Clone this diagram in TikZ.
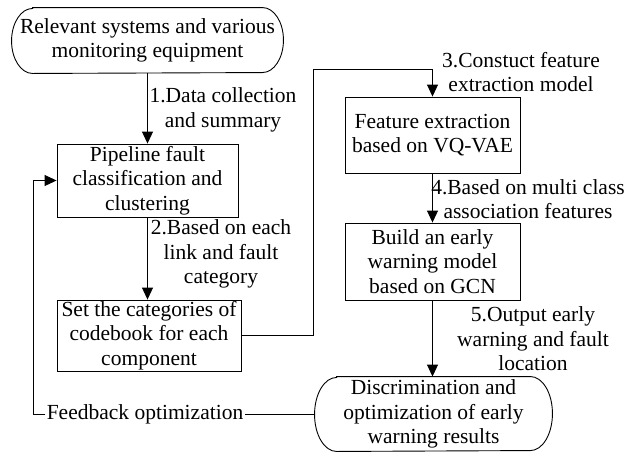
\documentclass[tikz,border=0pt]{standalone}
\usepackage{fontspec}
\setmainfont{Liberation Serif}
\usetikzlibrary{arrows.meta}
\begin{document}
\begin{tikzpicture}[x=1pt,y=-1pt,
  font=\fontsize{21.5}{24.4}\selectfont,
  line width=0.9pt,
  arr/.style={-{Triangle[length=12pt,width=11pt]}},
  stepbox/.style={draw,rectangle,inner sep=0pt,align=center},
  plain/.style={rectangle,inner sep=0pt,align=center},
  lbl/.style={inner sep=0pt,align=center}]
\useasboundingbox (0,0) rectangle (624,451);
% top stadium
\node[plain,minimum width=271pt,minimum height=65pt] (top) at (147.5,40.5)
  {Relevant systems and various\\monitoring equipment};
\draw ([xshift=21pt]top.north west) -- ([xshift=-21pt]top.north east)
  arc[start angle=90,end angle=-90,x radius=21pt,y radius=32.5pt]
  -- ([xshift=21pt]top.south west)
  arc[start angle=270,end angle=90,x radius=21pt,y radius=32.5pt] -- cycle;
% boxes
\node[stepbox,minimum width=181pt,minimum height=73pt] (pipe) at (147.5,180.5)
  {Pipeline fault\\classification and\\clustering};
\node[stepbox,minimum width=184pt,minimum height=71pt] (set) at (149,335.5)
  {Set the categories of\\codebook for each\\component};
\node[stepbox,minimum width=175pt,minimum height=76pt] (feat) at (432.5,135)
  {Feature extraction\\based on VQ-VAE};
\node[stepbox,minimum width=175pt,minimum height=77pt] (gcn) at (432.5,261.5)
  {Build an early\\warning model\\based on GCN};
% bottom stadium
\node[plain,minimum width=237pt,minimum height=74pt] (bot) at (433.5,414)
  {Discrimination and\\optimization of early\\warning results};
\draw ([xshift=22pt]bot.north west) -- ([xshift=-22pt]bot.north east)
  arc[start angle=90,end angle=-90,x radius=22pt,y radius=37pt]
  -- ([xshift=22pt]bot.south west)
  arc[start angle=270,end angle=90,x radius=22pt,y radius=37pt] -- cycle;
% labels
\node[lbl] (l1) at (223,110) {1.Data collection\\and summary};
\node[lbl] (l2) at (221,254) {2.Based on each\\link and fault\\category};
\node[lbl] (l3) at (521,72) {3.Constuct feature\\extraction model};
\node[lbl] (l4) at (528,199) {4.Based on multi class\\association features};
\node[lbl] (l5) at (533,339) {5.Output early\\warning and fault\\location};
\node[lbl,fill=white,inner xsep=1pt] (fb) at (145,414) {Feedback optimization};
% connectors
\coordinate (c1) at (33,414);
\coordinate (c2) at (313,69);
\draw[arr] (top.south -| pipe.north) -- (pipe.north);
\draw[arr] (pipe.south) -- (pipe.south |- set.north);
\draw[arr] (set.east) -| (c2) -| (feat.north);
\draw[arr] (feat.south) -- (gcn.north);
\draw[arr] (gcn.south) -- (gcn.south |- bot.north);
\draw (bot.west) -- (fb.east);
\draw[arr] (fb.west) -- (c1) |- (pipe.west);
\end{tikzpicture}
\end{document}
